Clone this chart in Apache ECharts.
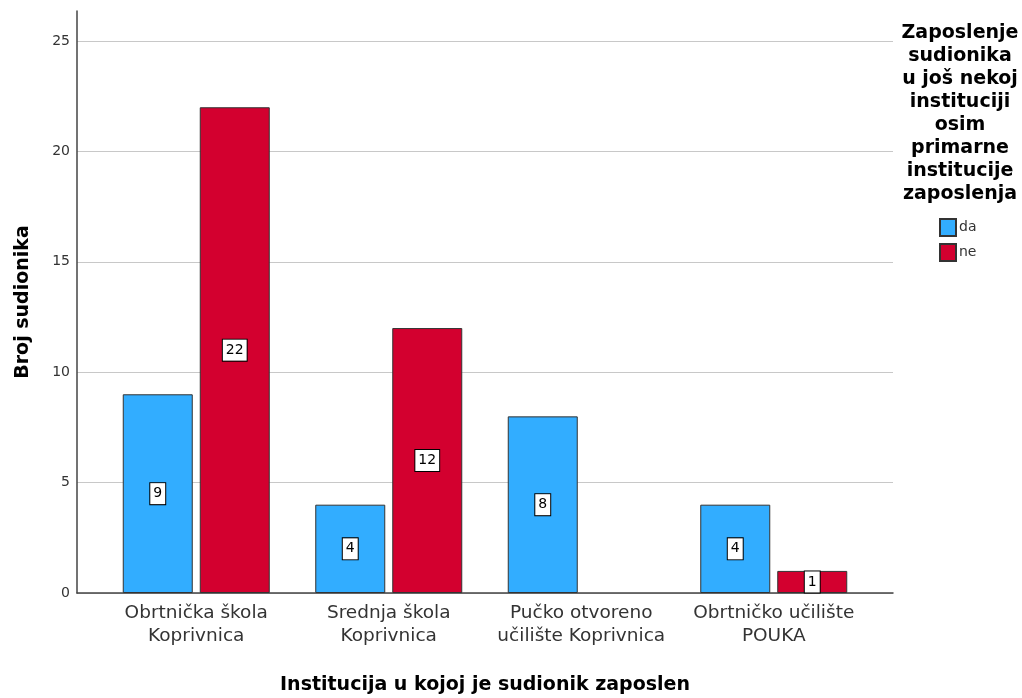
<!DOCTYPE html>
<html>
<head>
<meta charset="utf-8">
<script src="https://cdn.jsdelivr.net/npm/echarts@6/dist/echarts.min.js"></script>
<style>html,body{margin:0;padding:0;background:#fff;}#c{width:1022px;height:698px;}</style>
</head>
<body>
<div id="c"></div>
<script>
const categories = ['Obrtnička škola\nKoprivnica', 'Srednja škola\nKoprivnica', 'Pučko otvoreno\nučilište Koprivnica', 'Obrtničko učilište\nPOUKA'];
const seriesNames = ['da', 'ne'];
const daValues = [9, 4, 8, 4];
const neValues = [22, 12, null, 1];
const yTicks = [0, 5, 10, 15, 20, 25];
const legendTitle = 'Zaposlenje\nsudionika\nu još nekoj\ninstituciji\nosim\nprimarne\ninstitucije\nzaposlenja';

const FONT = '"DejaVu Sans", sans-serif';
const yMax = 26.36;
const chart = echarts.init(document.getElementById('c'), null, {renderer: 'canvas'});
const labelStyle = {
  show: true, position: 'inside', color: '#000', fontSize: 14, fontFamily: FONT,
  backgroundColor: '#fff', borderColor: '#000', borderWidth: 1, padding: [4, 3, 3, 3]
};
chart.setOption({
  animation: false,
  backgroundColor: '#fff',
  grid: [
    {left: 100, right: 152, top: 11, bottom: 105, containLabel: false, outerBoundsMode: 'none'},
    {left: 77, right: 129, top: 11, bottom: 105, containLabel: false, outerBoundsMode: 'none'}
  ],
  xAxis: [
    {
      type: 'category', gridIndex: 0, data: categories,
      axisLine: {show: false}, axisTick: {show: false},
      axisLabel: {color: '#333', fontSize: 18.5, fontFamily: FONT, lineHeight: 23, margin: 9, interval: 0},
      name: 'Institucija u kojoj je sudionik zaposlen', nameLocation: 'middle', nameGap: 83,
      nameTextStyle: {color: '#000', fontSize: 19, fontWeight: 'bold', fontFamily: FONT}
    },
    {
      type: 'value', gridIndex: 1, min: 0, max: 1,
      axisLine: {show: true, lineStyle: {color: '#444', width: 1.5}},
      axisTick: {show: false}, axisLabel: {show: false}, splitLine: {show: false}
    }
  ],
  yAxis: [
    {type: 'value', gridIndex: 0, min: 0, max: yMax, interval: 5, show: false},
    {
      type: 'value', gridIndex: 1, min: 0, max: yMax, interval: 5,
      axisLine: {show: true, lineStyle: {color: '#444', width: 1.5}},
      axisTick: {show: false},
      axisLabel: {color: '#333', fontSize: 14, fontFamily: FONT, margin: 7, showMaxLabel: false,
        formatter: v => (yTicks.indexOf(v) >= 0 ? String(v) : '')},
      splitLine: {show: true, showMaxLine: false, lineStyle: {color: '#c8c8c8', width: 1.2}},
      name: 'Broj sudionika', nameLocation: 'middle', nameGap: 44,
      nameTextStyle: {color: '#000', fontSize: 19, fontWeight: 'bold', fontFamily: FONT}
    }
  ],
  legend: {
    orient: 'vertical', left: 934, top: 213, itemWidth: 16, itemHeight: 17, itemGap: 6,
    icon: 'rect',
    textStyle: {color: '#333', fontSize: 14, fontFamily: FONT, padding: [0, 0, 0, -2]},
    data: seriesNames
  },
  graphic: [{
    type: 'text', x: 960, y: 22,
    style: {text: legendTitle, textAlign: 'center', fill: '#000', fontSize: 19, fontWeight: 'bold', fontFamily: FONT, lineHeight: 23}
  }],
  series: [
    {
      name: seriesNames[0], type: 'bar', xAxisIndex: 0, yAxisIndex: 0, data: daValues,
      barWidth: 70, barGap: '10%',
      itemStyle: {color: '#32adff', borderColor: '#333', borderWidth: 1},
      label: labelStyle
    },
    {
      name: seriesNames[1], type: 'bar', xAxisIndex: 0, yAxisIndex: 0, data: neValues,
      barWidth: 70, barGap: '10%',
      itemStyle: {color: '#d3002f', borderColor: '#333', borderWidth: 1},
      label: labelStyle
    }
  ]
});
</script>
</body>
</html>
